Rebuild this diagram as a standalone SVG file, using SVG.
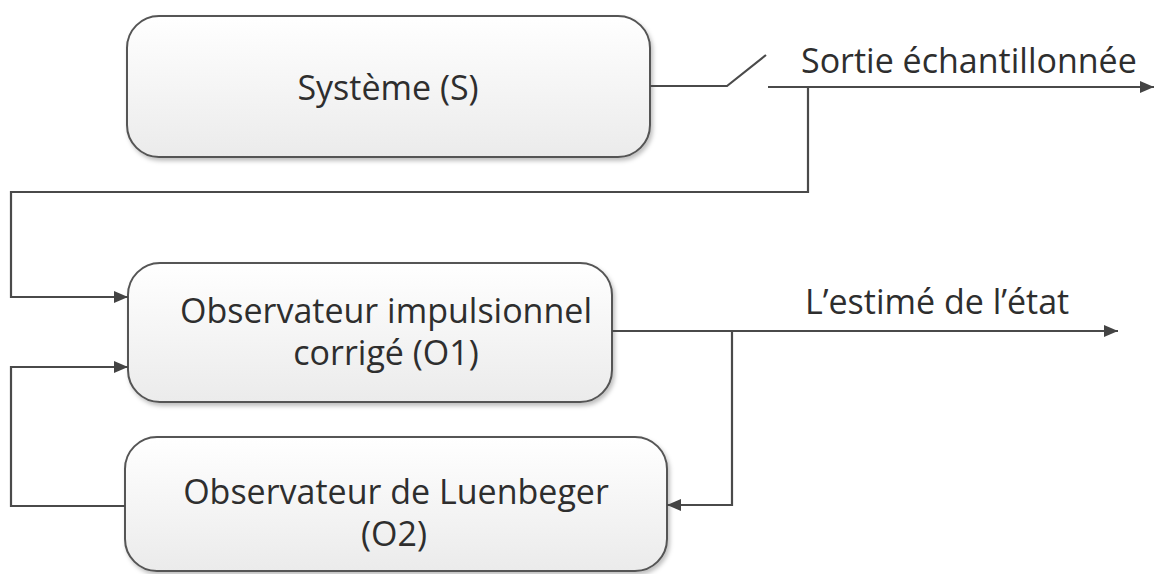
<svg xmlns="http://www.w3.org/2000/svg" width="1168" height="574" viewBox="0 0 1168 574">
<defs>
<linearGradient id="g" x1="0" y1="0" x2="0" y2="1">
<stop offset="0" stop-color="#ffffff"/>
<stop offset="1" stop-color="#ebebeb"/>
</linearGradient>
<filter id="sh" x="-5%" y="-5%" width="110%" height="115%">
<feDropShadow dx="2" dy="3" stdDeviation="2" flood-color="#000" flood-opacity="0.25"/>
</filter>
<marker id="ah" viewBox="0 0 14 12" refX="14" refY="6" markerWidth="14" markerHeight="12" markerUnits="userSpaceOnUse" orient="auto">
<path d="M0,0 L14,6 L0,12 z" fill="#444"/>
</marker>
</defs>
<style>
.box{fill:url(#g);stroke:#555;stroke-width:2;filter:url(#sh)}
.t{font-family:"Open Sans","Noto Sans",sans-serif;font-size:34px;fill:#2e2e2e;text-anchor:middle}
.l{font-family:"Open Sans","Noto Sans",sans-serif;font-size:34px;fill:#2e2e2e}
.c{fill:none;stroke:#4a4a4a;stroke-width:2.2}
.ca{fill:none;stroke:#4a4a4a;stroke-width:2.2;marker-end:url(#ah)}
</style>
<rect width="1168" height="574" fill="#fff"/>
<g id="S">
<rect class="box" x="127" y="16" width="523" height="141" rx="32"/>
<text class="t" x="388" y="100">Système (S)</text>
</g>
<g id="O1">
<rect class="box" x="128" y="263" width="484" height="139" rx="32"/>
<text class="t" x="386" y="323">Observateur impulsionnel</text>
<text class="t" x="386" y="365">corrigé (O1)</text>
</g>
<g id="O2">
<rect class="box" x="125" y="437" width="542" height="134" rx="32"/>
<text class="t" x="396" y="504">Observateur de Luenbeger</text>
<text class="t" x="394" y="546">(O2)</text>
</g>
<g id="connectors">
<path class="c" d="M650,86 H727 L766,55"/>
<path class="ca" d="M768,87 H1154"/>
<path class="ca" d="M808,87 V192 H11 V297 H128"/>
<path class="ca" d="M612,331 H1118"/>
<path class="ca" d="M732,331 V505 H667"/>
<path class="ca" d="M125,506 H11 V367 H128"/>
</g>
<text class="l" x="801" y="73">Sortie échantillonnée</text>
<text class="l" x="805" y="314">L’estimé de l’état</text>
</svg>
